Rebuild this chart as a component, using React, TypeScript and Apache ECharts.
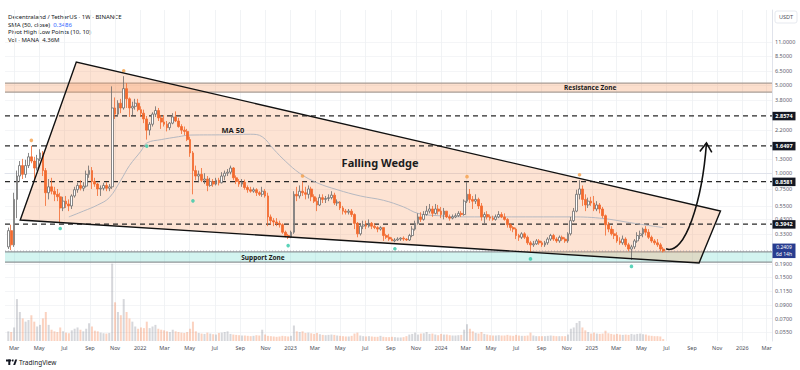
import React, { useEffect, useRef } from "react";
import * as echarts from "echarts";

const FONT = '"Noto Sans", Roboto, sans-serif';
const DAY = 86400000;
const ts = (s: string) => Date.parse(s + "T00:00:00Z");
const ln = Math.log;

// ---------------- data ----------------
const FIRST_WEEK = "2021-02-15";
const FIRST_OPEN = 0.26;

const close2021 = [0.35,0.27,0.62,0.95,1.15,0.98,1.15,1.35,1.25,1.1, 1.3,1.45,1.05,0.7,0.78,0.72,0.68,0.65,0.53,0.6, 0.57,0.55,0.66,0.74,0.8,0.76,0.79,0.98,1.05,0.86, 0.82,0.75,0.76,0.8,0.76,0.78,3.3,2.95,3.6,3.3, 4.7,3.9,3.3,3.4,3.6,3.2];
const high2021 = [0.37,0.39,0.7,1.05,1.25,1.3,1.28,1.45,1.65,1.35, 1.4,1.55,1.5,1.1,0.9,0.92,0.78,0.75,0.7,0.65, 0.66,0.62,0.68,0.78,0.84,0.88,0.85,1.05,1.15,1.12, 0.92,0.84,0.8,0.84,0.85,0.82,4.9,4.0,3.8,3.9, 5.9,5.2,4.0,3.7,3.9,3.9];
const low2021 = [0.25,0.245,0.26,0.44,0.85,0.9,0.92,1.1,1.2,0.9, 1.05,1.25,0.95,0.55,0.62,0.68,0.6,0.6,0.41,0.5, 0.53,0.5,0.52,0.64,0.7,0.73,0.72,0.77,0.92,0.75, 0.78,0.66,0.66,0.73,0.72,0.72,0.75,2.7,2.85,3.0, 3.2,3.3,2.8,2.9,3.2,3.1];

const close2022 = [3.0,2.7,2.2,2.45,2.95,3.15,2.75,2.55,2.45,2.3, 2.5,2.8,2.6,2.35,2.2,2.15,1.85,1.45,1.05,0.95, 0.98,0.88,0.9,0.8,0.86,0.82,0.88,0.84,0.95,1.0, 1.02,1.1,0.92,0.86,0.82,0.85,0.77,0.74,0.72,0.74, 0.7,0.68,0.72,0.66,0.45,0.42,0.41,0.4,0.39,0.34, 0.32,0.31];
const high2022 = [3.4,3.2,2.85,2.55,3.05,3.4,3.3,2.9,2.9,2.6, 2.55,3.0,3.1,2.75,2.45,2.35,2.25,1.95,1.5,1.15, 1.05,1.1,1.0,0.95,0.92,0.9,0.92,0.92,1.02,1.05, 1.08,1.15,1.12,0.96,0.9,0.9,0.89,0.8,0.78,0.77, 0.76,0.72,0.78,0.75,0.7,0.47,0.44,0.44,0.42,0.4, 0.35,0.33];
const low2022 = [2.8,2.5,1.85,2.0,2.35,2.8,2.6,2.25,2.35,2.15, 2.2,2.45,2.55,2.3,2.05,2.0,1.8,1.35,0.68,0.88, 0.85,0.85,0.82,0.72,0.78,0.78,0.8,0.8,0.83,0.88, 0.95,0.98,0.88,0.82,0.78,0.78,0.74,0.7,0.7,0.7, 0.66,0.66,0.65,0.64,0.38,0.39,0.38,0.38,0.37,0.33, 0.31,0.3];

const close2023 = [0.34,0.68,0.66,0.72,0.7,0.68,0.75,0.65,0.6,0.56, 0.64,0.62,0.63,0.64,0.67,0.58,0.59,0.53,0.5,0.49, 0.5,0.47,0.4,0.33,0.38,0.39,0.38,0.4,0.38,0.37, 0.36,0.37,0.32,0.31,0.3,0.29,0.295,0.3,0.305,0.3, 0.295,0.32,0.36,0.4,0.45,0.43,0.47,0.5,0.52,0.48, 0.52,0.5];
const high2023 = [0.35,0.72,0.78,0.8,0.86,0.78,0.8,0.78,0.68,0.64, 0.68,0.68,0.66,0.68,0.72,0.7,0.62,0.6,0.55,0.52, 0.52,0.52,0.48,0.41,0.4,0.42,0.42,0.43,0.41,0.4, 0.38,0.38,0.37,0.33,0.33,0.31,0.305,0.31,0.31,0.315, 0.305,0.33,0.38,0.42,0.48,0.49,0.5,0.55,0.57,0.55, 0.57,0.56];
const low2023 = [0.305,0.33,0.6,0.63,0.66,0.62,0.63,0.6,0.58,0.5, 0.55,0.58,0.58,0.6,0.62,0.56,0.55,0.51,0.47,0.47, 0.47,0.45,0.36,0.31,0.32,0.36,0.36,0.37,0.36,0.36, 0.34,0.35,0.29,0.3,0.29,0.29,0.283,0.29,0.29,0.29, 0.29,0.29,0.31,0.35,0.39,0.41,0.42,0.46,0.48,0.45, 0.47,0.47];

const close2024 = [0.47,0.5,0.45,0.44,0.45,0.46,0.48,0.47,0.6,0.68, 0.62,0.6,0.62,0.55,0.45,0.47,0.45,0.44,0.43,0.45, 0.47,0.45,0.43,0.39,0.37,0.36,0.32,0.31,0.33,0.31, 0.28,0.27,0.275,0.29,0.28,0.27,0.28,0.3,0.32,0.3, 0.29,0.31,0.3,0.29,0.33,0.42,0.5,0.68,0.75,0.62, 0.56,0.6,0.58];
const high2024 = [0.54,0.53,0.5,0.47,0.47,0.48,0.5,0.5,0.62,0.85, 0.75,0.66,0.68,0.64,0.58,0.49,0.5,0.47,0.46,0.47, 0.5,0.49,0.48,0.44,0.4,0.38,0.37,0.33,0.34,0.34, 0.32,0.29,0.29,0.3,0.3,0.29,0.29,0.31,0.33,0.33, 0.31,0.32,0.32,0.31,0.34,0.45,0.53,0.74,0.88,0.8, 0.68,0.64,0.65];
const low2024 = [0.44,0.43,0.44,0.42,0.43,0.44,0.45,0.45,0.46,0.58, 0.58,0.52,0.57,0.52,0.42,0.4,0.43,0.42,0.42,0.42, 0.44,0.44,0.42,0.37,0.35,0.34,0.3,0.29,0.3,0.3, 0.27,0.235,0.26,0.27,0.27,0.26,0.26,0.27,0.29,0.29, 0.28,0.28,0.29,0.28,0.28,0.32,0.41,0.49,0.62,0.55, 0.5,0.53,0.55];

const close2025 = [0.52,0.56,0.52,0.46,0.39,0.36,0.33,0.32,0.29,0.28, 0.3,0.27,0.25,0.26,0.29,0.32,0.33,0.36,0.34,0.31, 0.29,0.28,0.27,0.25,0.2409];
const high2025 = [0.66,0.6,0.58,0.54,0.47,0.41,0.38,0.36,0.34,0.31, 0.32,0.31,0.28,0.27,0.3,0.34,0.35,0.37,0.38,0.36, 0.32,0.3,0.3,0.28,0.26];
const low2025 = [0.5,0.5,0.48,0.44,0.32,0.34,0.32,0.3,0.28,0.27, 0.27,0.26,0.24,0.205,0.25,0.28,0.3,0.31,0.32,0.3, 0.28,0.27,0.26,0.24,0.235];

// weekly volume, millions of MANA
const vol2021 = [300,280,420,1300,900,700,600,650,800,600, 450,500,700,900,500,350,300,280,420,300, 260,240,330,380,420,350,300,380,550,450, 320,300,260,240,230,250,2400,1200,900,800, 1300,900,700,600,450,380];
const vol2022 = [420,400,600,400,450,500,380,350,330,300, 280,350,300,280,260,250,280,380,600,300, 250,230,220,260,230,210,200,250,260,280, 300,220,200,190,180,170,170,160,150,160, 180,170,350,200,160,150,140,130,140,160, 150,140];
const vol2023 = [160,480,300,280,300,250,260,240,220,250, 210,190,180,190,200,190,170,160,150,140, 140,160,230,260,170,150,140,150,140,130, 130,160,130,120,120,130,120,110,110,120, 150,200,220,260,200,230,240,280,220,230, 200,180];
const vol2024 = [220,200,200,180,170,170,180,190,350,520, 380,300,250,230,280,220,200,180,170,170, 180,170,170,190,170,160,190,170,160,160, 170,260,170,150,150,150,150,160,170,160, 150,150,150,150,200,380,420,560,620,420, 330,280,230];
const vol2025 = [260,230,220,230,320,240,220,200,220,200, 190,200,190,220,200,220,230,210,200,170, 160,150,150,140,60];

// SMA 50
const maDates = ["2021-07-12","2021-08-16","2021-09-20","2021-10-18","2021-11-15","2021-12-06","2022-01-03","2022-01-17","2022-02-21","2022-04-04","2022-05-02","2022-07-25","2022-09-26","2022-10-24","2022-11-21","2022-12-19","2023-01-23","2023-03-06","2023-04-24","2023-06-19","2023-08-14","2023-10-02","2023-11-06","2023-12-25","2024-03-04","2024-07-08","2024-11-04","2025-01-20","2025-04-14","2025-06-23"];
const maValues = [0.45,0.5,0.56,0.64,0.88,1.15,1.5,1.74,1.85,1.95,2.01,2.02,2.04,1.95,1.55,1.25,1.0,0.84,0.74,0.66,0.61,0.54,0.48,0.46,0.45,0.45,0.45,0.44,0.4,0.37];

const pivotHighWeeks = ["2021-04-12","2021-11-22","2023-01-30","2024-03-04","2024-12-02"];
const pivotLowWeeks = ["2021-06-21","2022-01-17","2022-05-09","2022-12-26","2023-09-11","2024-08-05","2025-04-07"];

const levelPrices = [2.8574, 1.6497, 0.8581, 0.3942];
const lastPrice = 0.2409;
const resistanceZone = [4.41, 5.2];
const supportZone = [0.197, 0.237];
const priceTicks = [11, 8.5, 6.5, 5, 3.8, 2.2, 1.3, 1.0, 0.75, 0.55, 0.43, 0.33, 0.19, 0.15, 0.115, 0.09, 0.07, 0.055];
const MONTHS = ["Jan","Feb","Mar","Apr","May","Jun","Jul","Aug","Sep","Oct","Nov","Dec"];

// drawing anchors (date, price)
const WEDGE: [string, number][] = [["2021-03-16", 0.425], ["2021-07-30", 7.64], ["2025-11-09", 0.501], ["2025-09-18", 0.194]];
const ARROW = { from: ["2025-06-30", 0.251], c1: ["2025-08-15", 0.22], c2: ["2025-09-26", 0.613], to: ["2025-10-06", 1.74] } as Record<string, [string, number]>;
const TXT_WEDGE: [string, number] = ["2023-08-06", 1.227];
const TXT_MA: [string, number] = ["2022-08-14", 2.2];
const TXT_RES_DATE = "2024-12-28";
const TXT_SUP_DATE = "2022-10-26";

const X_MIN = ts("2021-02-07");
const X_MAX = ts("2026-03-14");
const Y_MIN = 0.0465;
const Y_MAX = 19.8;

function buildOption() {
  const closes = [...close2021, ...close2022, ...close2023, ...close2024, ...close2025];
  const highs = [...high2021, ...high2022, ...high2023, ...high2024, ...high2025];
  const lows = [...low2021, ...low2022, ...low2023, ...low2024, ...low2025];
  const vols = [...vol2021, ...vol2022, ...vol2023, ...vol2024, ...vol2025];
  const t0 = ts(FIRST_WEEK);
  const times = closes.map((_, i) => t0 + i * 7 * DAY);
  const opens = closes.map((_, i) => (i === 0 ? FIRST_OPEN : closes[i - 1]));
  const candles = closes.map((c, i) => [times[i], ln(opens[i]), ln(c), ln(lows[i]), ln(highs[i])]);
  const volData = vols.map((v, i) => ({
    value: [times[i], v],
    itemStyle: { color: closes[i] >= opens[i] ? "rgba(130,134,145,0.33)" : "rgba(242,106,46,0.30)" },
  }));
  const idxOf = (d: string) => times.indexOf(ts(d));
  const pivH = pivotHighWeeks.map((d) => [ts(d), ln(highs[idxOf(d)])]);
  const pivL = pivotLowWeeks.map((d) => [ts(d), ln(lows[idxOf(d)])]);

  const timeTicks: number[] = [];
  for (let y = 2021; y <= 2026; y++)
    for (let m = 0; m < 12; m += 2) {
      const v = Date.UTC(y, m, 1);
      if (v >= X_MIN && v <= X_MAX) timeTicks.push(v);
    }

  const helpers = (params: any, api: any) => {
    const cs = params.coordSys;
    const Y = (p: number) => api.coord([X_MIN, ln(p)])[1];
    const P = (pt: [string, number]) => api.coord([ts(pt[0]), ln(pt[1])]);
    const X = (d: string) => api.coord([ts(d), 0])[0];
    return { cs, Y, P, X };
  };

  const bgLayer = (params: any, api: any) => {
    const { cs, Y, P } = helpers(params, api);
    const band = (zone: number[], fill: string, stroke: string) => [
      { type: "rect", shape: { x: cs.x, y: Y(zone[1]), width: cs.width, height: Y(zone[0]) - Y(zone[1]) }, style: { fill } },
      { type: "line", shape: { x1: cs.x, y1: Y(zone[1]), x2: cs.x + cs.width, y2: Y(zone[1]) }, style: { stroke, lineWidth: 1.2 } },
      { type: "line", shape: { x1: cs.x, y1: Y(zone[0]), x2: cs.x + cs.width, y2: Y(zone[0]) }, style: { stroke, lineWidth: 1.2 } },
    ];
    return {
      type: "group",
      children: [
        ...band(resistanceZone, "rgba(246,150,90,0.30)", "#a89d95"),
        ...band(supportZone, "rgba(110,220,205,0.30)", "#8e9597"),
        { type: "polygon", shape: { points: WEDGE.map(P) }, style: { fill: "rgba(246,150,92,0.27)" } },
      ],
    };
  };

  const midLayer = (params: any, api: any) => {
    const { cs, Y } = helpers(params, api);
    const children: any[] = levelPrices.map((p) => ({
      type: "line",
      shape: { x1: cs.x, y1: Y(p), x2: cs.x + cs.width, y2: Y(p) },
      style: { stroke: "#2a2a2a", lineWidth: 1.1, lineDash: [5, 4] },
    }));
    children.push({
      type: "line",
      shape: { x1: cs.x, y1: Y(lastPrice), x2: cs.x + cs.width, y2: Y(lastPrice) },
      style: { stroke: "#9598a1", lineWidth: 0.8, lineDash: [1, 2] },
    });
    return { type: "group", children };
  };

  const fgLayer = (params: any, api: any) => {
    const { cs, Y, P, X } = helpers(params, api);
    const right = cs.x + cs.width;
    const a = P(ARROW.from), b = P(ARROW.c1), c = P(ARROW.c2), d = P(ARROW.to);
    let dx = d[0] - c[0], dy = d[1] - c[1];
    const len = Math.hypot(dx, dy) || 1;
    dx /= len; dy /= len;
    const px = -dy, py = dx;
    const head = [
      [d[0] - dx * 9 + px * 6, d[1] - dy * 9 + py * 6],
      [d[0], d[1]],
      [d[0] - dx * 9 - px * 6, d[1] - dy * 9 - py * 6],
    ];
    const children: any[] = [
      { type: "polygon", shape: { points: WEDGE.map(P) }, style: { fill: "none", stroke: "#111", lineWidth: 1.4 } },
      { type: "bezierCurve", shape: { x1: a[0], y1: a[1], cpx1: b[0], cpy1: b[1], cpx2: c[0], cpy2: c[1], x2: d[0], y2: d[1] }, style: { fill: "none", stroke: "#111", lineWidth: 1.6 } },
      { type: "polyline", shape: { points: head }, style: { fill: "none", stroke: "#111", lineWidth: 1.6 } },
    ];
    const txt = (x: number, y: number, text: string, size: number, weight: string) => ({
      type: "text", x, y,
      style: { text, fontSize: size, fontWeight: weight, fontFamily: FONT, fill: "#1c1c1c", align: "center", verticalAlign: "middle" },
    });
    const w = P(TXT_WEDGE), m = P(TXT_MA);
    children.push(txt(w[0], w[1], "Falling Wedge", 11, "bold"));
    children.push(txt(m[0], m[1], "MA 50", 7.5, "bold"));
    children.push(txt(X(TXT_RES_DATE), Y(Math.sqrt(resistanceZone[0] * resistanceZone[1])), "Resistance Zone", 6.5, "bold"));
    children.push(txt(X(TXT_SUP_DATE), Y(Math.sqrt(supportZone[0] * supportZone[1])), "Support Zone", 6.5, "bold"));
    levelPrices.forEach((p) => {
      const y = Y(p);
      children.push({ type: "rect", shape: { x: right + 0.5, y: y - 4, width: 23, height: 8.5 }, style: { fill: "#131722" } });
      children.push({ type: "text", x: right + 12, y: y + 0.2, style: { text: p.toFixed(4), fontSize: 5.5, fontWeight: "bold", fontFamily: FONT, fill: "#fff", align: "center", verticalAlign: "middle" } });
    });
    const ly = Y(lastPrice);
    children.push({ type: "rect", shape: { x: right + 0.5, y: ly - 7.5, width: 23, height: 14.5 }, style: { fill: "#283c8f" } });
    children.push({ type: "text", x: right + 12, y: ly - 3.6, style: { text: lastPrice.toFixed(4), fontSize: 5, fontFamily: FONT, fill: "#fff", align: "center", verticalAlign: "middle" } });
    children.push({ type: "text", x: right + 12, y: ly + 3.2, style: { text: "6d 14h", fontSize: 5, fontFamily: FONT, fill: "#fff", align: "center", verticalAlign: "middle" } });
    return { type: "group", children };
  };

  const layerSeries = (renderItem: any, z: number) => ({
    type: "custom",
    xAxisIndex: 0,
    yAxisIndex: 0,
    z,
    silent: true,
    clip: false,
    data: [[X_MIN, 0]],
    renderItem,
  });

  return {
    animation: false,
    backgroundColor: "#ffffff",
    grid: [
      { left: 5, right: 28, top: 10, bottom: 29 },
      { left: 5, right: 28, top: 262, bottom: 29 },
    ],
    xAxis: [
      {
        type: "value", gridIndex: 0, min: X_MIN, max: X_MAX,
        axisLine: { show: true, lineStyle: { color: "#e0e3eb" } },
        axisTick: { show: false, customValues: timeTicks },
        axisLabel: {
          customValues: timeTicks,
          formatter: (v: number) => {
            const dt = new Date(v);
            return dt.getUTCMonth() === 0 ? String(dt.getUTCFullYear()) : MONTHS[dt.getUTCMonth()];
          },
          fontSize: 5.5, color: "#4a4d57", margin: 4, fontFamily: FONT,
        },
        splitLine: { show: true, lineStyle: { color: "#eef0f3", width: 0.8 } },
      },
      { type: "value", gridIndex: 1, min: X_MIN, max: X_MAX, show: false, splitLine: { show: false } },
    ],
    yAxis: [
      {
        type: "value", gridIndex: 0, position: "right", min: ln(Y_MIN), max: ln(Y_MAX),
        axisLine: { show: true, lineStyle: { color: "#e0e3eb" } },
        axisTick: { show: false, customValues: priceTicks.map(ln) },
        axisLabel: {
          customValues: priceTicks.map(ln),
          formatter: (v: number) => Math.exp(v).toFixed(4),
          fontSize: 5.5, color: "#5d606b", margin: 3, fontFamily: FONT,
        },
        splitLine: { show: true, lineStyle: { color: "#f1f2f5", width: 0.8 } },
      },
      { type: "value", gridIndex: 1, min: 0, max: 2450, show: false, splitLine: { show: false } },
    ],
    graphic: [
      { type: "text", x: 8, y: 17, style: { text: "Decentraland / TetherUS · 1W · BINANCE", fontSize: 6, fontFamily: FONT, fill: "#131722", verticalAlign: "middle" } },
      {
        type: "text", x: 8, y: 24.7,
        style: {
          text: "SMA (50, close)  {b|0.3486}", fontSize: 6, fontFamily: FONT, fill: "#131722", verticalAlign: "middle",
          rich: { b: { fill: "#2962ff", fontSize: 6, fontFamily: FONT } },
        },
      },
      { type: "text", x: 8, y: 32.4, style: { text: "Pivot High Low Points (10, 10)", fontSize: 6, fontFamily: FONT, fill: "#131722", verticalAlign: "middle" } },
      { type: "text", x: 8, y: 40, style: { text: "Vol · MANA  4.36M", fontSize: 6, fontFamily: FONT, fill: "#131722", verticalAlign: "middle" } },
      { type: "rect", shape: { x: 775, y: 11, width: 22, height: 12, r: 2 }, style: { fill: "#fff", stroke: "#e0e3eb", lineWidth: 0.8 } },
      { type: "text", x: 786, y: 17, style: { text: "USDT", fontSize: 5.5, fontFamily: FONT, fill: "#4a4d57", align: "center", verticalAlign: "middle" } },
      { type: "rect", shape: { x: 6, y: 359.5, width: 5, height: 2 }, style: { fill: "#131722" } },
      { type: "rect", shape: { x: 8.3, y: 359.5, width: 2, height: 5.5 }, style: { fill: "#131722" } },
      { type: "circle", shape: { cx: 12.6, cy: 360.5, r: 1 }, style: { fill: "#131722" } },
      { type: "polygon", shape: { points: [[13.2, 365], [15.2, 359.5], [17.2, 359.5], [15.2, 365]] }, style: { fill: "#131722" } },
      { type: "text", x: 19, y: 362.3, style: { text: "TradingView", fontSize: 6.5, fontFamily: FONT, fill: "#131722", verticalAlign: "middle" } },
    ],
    series: [
      layerSeries(bgLayer, 1),
      layerSeries(midLayer, 2),
      {
        type: "bar", xAxisIndex: 1, yAxisIndex: 1, data: volData, barWidth: 2, z: 1, silent: true,
      },
      {
        type: "line", xAxisIndex: 0, yAxisIndex: 0, z: 3, silent: true,
        data: maDates.map((d, i) => [ts(d), ln(maValues[i])]),
        smooth: 0.4, showSymbol: false, symbol: "none",
        lineStyle: { color: "#b5b8c0", width: 1 },
      },
      {
        type: "candlestick", xAxisIndex: 0, yAxisIndex: 0, z: 4, silent: true,
        dimensions: ["t", "open", "close", "low", "high"],
        encode: { x: "t", y: ["open", "close", "low", "high"] },
        data: candles,
        barWidth: 2.3,
        itemStyle: { color: "#ffffff", color0: "#f26a2e", borderColor: "#6b6b6b", borderColor0: "#f26a2e", borderWidth: 0.8 },
      },
      {
        type: "scatter", xAxisIndex: 0, yAxisIndex: 0, z: 5, silent: true,
        data: pivH, symbolSize: 3.6, symbolOffset: [0, -5.5], itemStyle: { color: "#f5a04a" },
      },
      {
        type: "scatter", xAxisIndex: 0, yAxisIndex: 0, z: 5, silent: true,
        data: pivL, symbolSize: 3.6, symbolOffset: [0, 6.5], itemStyle: { color: "#32c8a8" },
      },
      layerSeries(fgLayer, 6),
    ],
  };
}

export default function App() {
  const ref = useRef<HTMLDivElement>(null);
  useEffect(() => {
    if (!ref.current) return;
    const chart = echarts.init(ref.current, null, { renderer: "svg" });
    chart.setOption(buildOption() as any);
    return () => chart.dispose();
  }, []);
  return (
    <div
      ref={ref}
      style={{ position: "fixed", left: 0, top: 0, width: 800, height: 370, background: "#fff" }}
    />
  );
}
